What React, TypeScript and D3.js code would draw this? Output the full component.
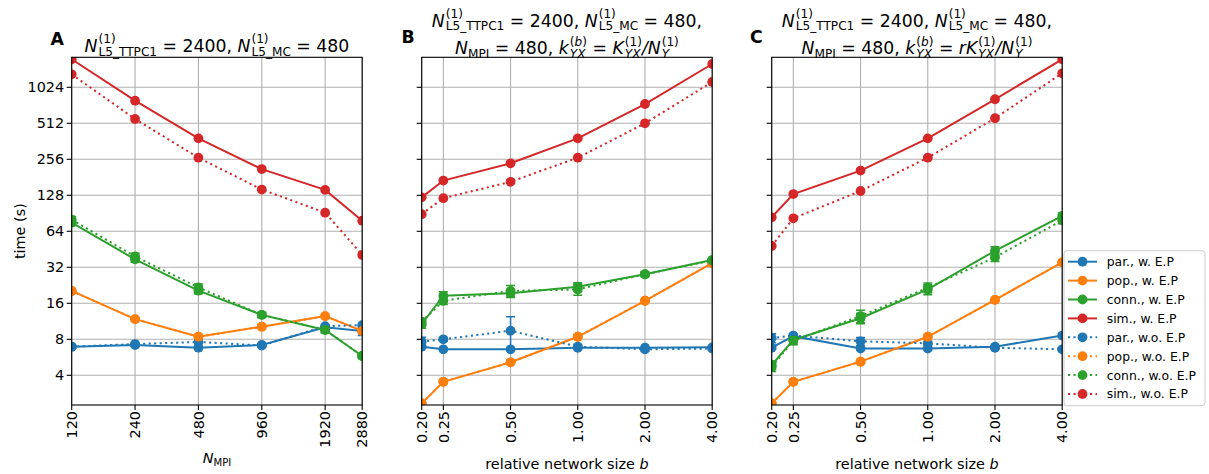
import React from "react";
import * as d3 from "d3";

// ---------- data ----------
const xMPI = [120, 240, 480, 960, 1920, 2880];
const xMPILabels = ["120", "240", "480", "960", "1920", "2880"];
const xSize = [0.2, 0.25, 0.5, 1, 2, 4];
const xSizeLabels = ["0.20", "0.25", "0.50", "1.00", "2.00", "4.00"];
const yTicks = [4, 8, 16, 32, 64, 128, 256, 512, 1024];

const seriesNames = ["par.", "pop.", "conn.", "sim."];
const variantNames = ["w. E.P", "w.o. E.P"];
const colors = ["#1f77b4", "#ff7f0e", "#2ca02c", "#d62728"];

// Panel A
const A_par_w = [6.94, 7.17, 6.81, 7.17, 10.1, 9.4];
const A_pop_w = [20.3, 11.8, 8.41, 10.2, 12.5, 9.4];
const A_conn_w = [75.5, 37.3, 20.4, 12.8, 9.57, 5.8];
const A_sim_w = [1756, 791, 383, 212, 142, 78.5];
const A_par_wo = [6.94, 7.3, 7.6, 7.1, 10.3, 10.5];
const A_pop_wo = [20.3, 11.8, 8.41, 10.2, 12.5, 9.4];
const A_conn_wo = [80, 39.5, 21.7, 12.8, 9.6, 5.8];
const A_sim_wo = [1315, 556, 264, 143, 91.6, 40.6];
const A_conn_w_err = [4, 2, 1.2, 0.6, 0.5, 0.2];
const A_conn_wo_err = [5, 2.5, 1.5, 0.6, 0.5, 0.2];
const A_par_w_err = [0.2, 0.2, 0.2, 0.2, 0.3, 0.8];

// Panel B
const B_par_w = [6.94, 6.6, 6.6, 6.8, 6.8, 6.85];
const B_pop_w = [2.33, 3.53, 5.14, 8.4, 16.8, 34.7];
const B_conn_w = [10.7, 18.5, 19.4, 22, 28, 36.8];
const B_sim_w = [123, 170, 237, 383, 742, 1603];
const B_par_wo = [7.64, 8.0, 9.44, 6.94, 6.6, 6.7];
const B_pop_wo = [2.33, 3.53, 5.14, 8.4, 16.8, 34.7];
const B_conn_wo = [11.2, 16.8, 20.3, 20.9, 28, 36.5];
const B_sim_wo = [89, 121, 166, 264, 512, 1134];
const B_par_wo_err = [0.7, 0.3, 2.9, 0.3, 0.2, 0.2];
const B_conn_w_err = [0.8, 1.5, 1.5, 1.8, 1.2, 0.8];
const B_conn_wo_err = [0.8, 1.2, 2.2, 2.2, 1.2, 0.8];

// Panel C
const C_par_w = [6.8, 8.5, 6.7, 6.7, 6.94, 8.6];
const C_pop_w = [2.33, 3.53, 5.2, 8.4, 17.1, 35.2];
const C_conn_w = [4.88, 7.9, 12, 20.9, 44, 86];
const C_sim_w = [83.8, 131, 206, 383, 813, 1756];
const C_par_wo = [8.2, 8.6, 7.7, 7.4, 6.8, 6.6];
const C_pop_wo = [2.33, 3.53, 5.2, 8.4, 17.1, 35.2];
const C_conn_wo = [4.7, 7.8, 12.5, 21.6, 38.8, 79];
const C_sim_wo = [48.2, 82.2, 139, 264, 564, 1341];
const C_par_wo_err = [0.7, 0.3, 0.6, 0.3, 0.2, 0.2];
const C_conn_w_err = [0.4, 0.6, 1.2, 2, 3.5, 5];
const C_conn_wo_err = [0.4, 0.6, 1.5, 2, 3, 5];

// ---------- layout ----------
const W = 1209;
const H = 474;
const TOP = 57.3;
const BOTTOM = 405;
const PW = 290.5;
const LEFTS = [71.7, 421.7, 771.7];
const FF = "'DejaVu Sans', sans-serif";
const TICK_FS = 14.4;
const TITLE_FS = 17.3;

const yScale = d3.scaleLog().base(2).domain([2.258, 1824]).range([BOTTOM, TOP]);

let _ctx: CanvasRenderingContext2D | null = null;
function measure(t: string, size: number, italic = false) {
  if (!_ctx) _ctx = document.createElement("canvas").getContext("2d");
  if (!_ctx) return t.length * size * 0.6;
  _ctx.font = `${italic ? "italic " : ""}${size}px 'DejaVu Sans'`;
  return _ctx.measureText(t).width;
}

type Part = { t: string; i?: boolean };
type Item =
  | { k: "n"; p: Part[] }
  | { k: "ss"; sup: Part[]; sub: Part[] }
  | { k: "sub"; p: Part[] };

function MathText({ x, y, items, size, anchor = "middle" }: { x: number; y: number; items: Item[]; size: number; anchor?: string }) {
  const small = size * 0.7;
  const supOff = -size * 0.48;
  const subOff = size * 0.22;
  const spans: any[] = [];
  let level = 0;
  let pendingDx = 0;
  let key = 0;
  const push = (p: Part, lvl: number, fs: number, dx: number) => {
    spans.push(
      <tspan key={key++} dy={lvl - level} dx={dx || undefined} fontSize={fs} fontStyle={p.i ? "italic" : "normal"}>
        {p.t}
      </tspan>
    );
    level = lvl;
  };
  const width = (ps: Part[], fs: number) => ps.reduce((s, p) => s + measure(p.t, fs, p.i), 0);
  for (const it of items) {
    if (it.k === "n") {
      it.p.forEach((p, j) => push(p, 0, size, j === 0 ? pendingDx : 0));
      pendingDx = 0;
    } else if (it.k === "sub") {
      it.p.forEach((p, j) => push(p, subOff, small, j === 0 ? pendingDx : 0));
      pendingDx = 0;
    } else {
      const sw = width(it.sup, small);
      const bw = width(it.sub, small);
      it.sup.forEach((p, j) => push(p, supOff, small, j === 0 ? pendingDx + 1 : 0));
      it.sub.forEach((p, j) => push(p, subOff, small, j === 0 ? -sw : 0));
      pendingDx = Math.max(0, sw - bw);
    }
  }
  return (
    <text x={x} y={y} textAnchor={anchor} fontFamily={FF} fontSize={size} fill="#000" style={{ whiteSpace: "pre" }}>
      {spans}
    </text>
  );
}

const titleLine1: Item[] = [
  { k: "n", p: [{ t: "N", i: true }] },
  { k: "ss", sup: [{ t: "(1)" }], sub: [{ t: "L5_TTPC1" }] },
  { k: "n", p: [{ t: " = 2400, " }, { t: "N", i: true }] },
  { k: "ss", sup: [{ t: "(1)" }], sub: [{ t: "L5_MC" }] },
  { k: "n", p: [{ t: " = 480" }] },
];
const titleLine1Comma: Item[] = [...titleLine1, { k: "n", p: [{ t: "," }] }];
function titleLine2(r: boolean): Item[] {
  return [
    { k: "n", p: [{ t: "N", i: true }] },
    { k: "sub", p: [{ t: "MPI" }] },
    { k: "n", p: [{ t: " = 480, " }, { t: "k", i: true }] },
    { k: "ss", sup: [{ t: "(" }, { t: "b", i: true }, { t: ")" }], sub: [{ t: "YX", i: true }] },
    { k: "n", p: [{ t: " = " }, { t: r ? "rK" : "K", i: true }] },
    { k: "ss", sup: [{ t: "(1)" }], sub: [{ t: "YX", i: true }] },
    { k: "n", p: [{ t: "/N", i: true }] },
    { k: "ss", sup: [{ t: "(1)" }], sub: [{ t: "Y", i: true }] },
  ];
}

type Series = { vals: number[]; err?: number[]; color: string; dotted: boolean };

function makeSeries(w: number[][], wo: number[][], errW: (number[] | undefined)[], errWo: (number[] | undefined)[]): Series[] {
  const out: Series[] = [];
  w.forEach((v, i) => out.push({ vals: v, err: errW[i], color: colors[i], dotted: false }));
  wo.forEach((v, i) => out.push({ vals: v, err: errWo[i], color: colors[i], dotted: true }));
  return out;
}

const seriesA = makeSeries(
  [A_par_w, A_pop_w, A_conn_w, A_sim_w],
  [A_par_wo, A_pop_wo, A_conn_wo, A_sim_wo],
  [A_par_w_err, undefined, A_conn_w_err, undefined],
  [undefined, undefined, A_conn_wo_err, undefined]
);
const seriesB = makeSeries(
  [B_par_w, B_pop_w, B_conn_w, B_sim_w],
  [B_par_wo, B_pop_wo, B_conn_wo, B_sim_wo],
  [undefined, undefined, B_conn_w_err, undefined],
  [B_par_wo_err, undefined, B_conn_wo_err, undefined]
);
const seriesC = makeSeries(
  [C_par_w, C_pop_w, C_conn_w, C_sim_w],
  [C_par_wo, C_pop_wo, C_conn_wo, C_sim_wo],
  [undefined, undefined, C_conn_w_err, undefined],
  [C_par_wo_err, undefined, C_conn_wo_err, undefined]
);

const LW = 2.0;
const MR = 4.9;
const DASH = "2.1 3.4";

function Panel({ idx, xs, xLabels, series, showY }: { idx: number; xs: number[]; xLabels: string[]; series: Series[]; showY: boolean }) {
  const left = LEFTS[idx];
  const xScale = d3.scaleLog().base(2).domain([xs[0], xs[xs.length - 1]]).range([left, left + PW]);
  const clipId = `clip${idx}`;
  const line = (vals: number[]) =>
    d3
      .line<number>()
      .x((_, i) => xScale(xs[i]))
      .y((v) => yScale(v))(vals) || "";
  return (
    <g>
      <defs>
        <clipPath id={clipId}>
          <rect x={left} y={TOP} width={PW} height={BOTTOM - TOP} />
        </clipPath>
      </defs>
      {xs.map((x, i) => (
        <line key={"gx" + i} x1={xScale(x)} x2={xScale(x)} y1={TOP} y2={BOTTOM} stroke="#b0b0b0" strokeWidth={1.1} />
      ))}
      {yTicks.map((t, i) => (
        <line key={"gy" + i} x1={left} x2={left + PW} y1={yScale(t)} y2={yScale(t)} stroke="#b0b0b0" strokeWidth={1.1} />
      ))}
      <g clipPath={`url(#${clipId})`}>
        {series.map((s, si) => (
          <g key={si}>
            <path d={line(s.vals)} fill="none" stroke={s.color} strokeWidth={LW} strokeDasharray={s.dotted ? DASH : undefined} />
            {s.err &&
              s.vals.map((v, i) => {
                const e = s.err![i];
                if (!e) return null;
                const x = xScale(xs[i]);
                const y1 = yScale(Math.max(v - e, 0.01));
                const y2 = yScale(v + e);
                return (
                  <g key={"e" + i} stroke={s.color} strokeWidth={1.5}>
                    <line x1={x} x2={x} y1={y1} y2={y2} />
                    <line x1={x - 4.5} x2={x + 4.5} y1={y1} y2={y1} />
                    <line x1={x - 4.5} x2={x + 4.5} y1={y2} y2={y2} />
                  </g>
                );
              })}
            {s.vals.map((v, i) => (
              <circle key={"m" + i} cx={xScale(xs[i])} cy={yScale(v)} r={MR} fill={s.color} />
            ))}
          </g>
        ))}
      </g>
      <rect x={left} y={TOP} width={PW} height={BOTTOM - TOP} fill="none" stroke="#000" strokeWidth={1.1} />
      {xs.map((x, i) => (
        <g key={"xt" + i}>
          <line x1={xScale(x)} x2={xScale(x)} y1={BOTTOM} y2={BOTTOM + 5} stroke="#000" strokeWidth={1.1} />
          <text
            transform={`translate(${xScale(x)},${BOTTOM + 6}) rotate(-90)`}
            textAnchor="end"
            dy="0.36em"
            fontFamily={FF}
            fontSize={TICK_FS}
          >
            {xLabels[i]}
          </text>
        </g>
      ))}
      {yTicks.map((t, i) => (
        <g key={"yt" + i}>
          <line x1={left - 5} x2={left} y1={yScale(t)} y2={yScale(t)} stroke="#000" strokeWidth={1.1} />
          {showY && (
            <text x={left - 7.5} y={yScale(t)} dy="0.36em" textAnchor="end" fontFamily={FF} fontSize={TICK_FS}>
              {t}
            </text>
          )}
        </g>
      ))}
    </g>
  );
}

function Legend() {
  const x0 = 1064;
  const y0 = 250.7;
  const rows: { color: string; dotted: boolean; label: string }[] = [];
  variantNames.forEach((vn, vi) =>
    seriesNames.forEach((sn, si) => rows.push({ color: colors[si], dotted: vi === 1, label: `${sn}, ${vn}` }))
  );
  return (
    <g>
      <rect x={x0} y={y0} width={141} height={155} rx={3} fill="#fff" fillOpacity={0.8} stroke="#cccccc" strokeWidth={1} />
      {rows.map((r, i) => {
        const y = 261.7 + i * 18.9;
        return (
          <g key={i}>
            <line x1={1068} x2={1097} y1={y} y2={y} stroke={r.color} strokeWidth={LW} strokeDasharray={r.dotted ? DASH : undefined} />
            <circle cx={1082.5} cy={y} r={MR} fill={r.color} />
            <text x={1106.7} y={y} dy="0.36em" fontFamily={FF} fontSize={12.4}>
              {r.label}
            </text>
          </g>
        );
      })}
    </g>
  );
}

export default function App() {
  return (
    <svg width={W} height={H} style={{ position: "absolute", left: 0, top: 0, background: "#fff" }}>
      <rect x={0} y={0} width={W} height={H} fill="#fff" />
      <Panel idx={0} xs={xMPI} xLabels={xMPILabels} series={seriesA} showY={true} />
      <Panel idx={1} xs={xSize} xLabels={xSizeLabels} series={seriesB} showY={false} />
      <Panel idx={2} xs={xSize} xLabels={xSizeLabels} series={seriesC} showY={false} />

      <MathText x={LEFTS[0] + PW / 2} y={51.7} items={titleLine1} size={TITLE_FS} />
      <MathText x={LEFTS[1] + PW / 2} y={26.5} items={titleLine1Comma} size={TITLE_FS} />
      <MathText x={LEFTS[1] + PW / 2} y={54} items={titleLine2(false)} size={TITLE_FS} />
      <MathText x={LEFTS[2] + PW / 2} y={26.5} items={titleLine1Comma} size={TITLE_FS} />
      <MathText x={LEFTS[2] + PW / 2} y={54} items={titleLine2(true)} size={TITLE_FS} />

      <text x={50.5} y={45} fontFamily={FF} fontWeight="bold" fontSize={17.3}>A</text>
      <text x={401.5} y={43.3} fontFamily={FF} fontWeight="bold" fontSize={17.3}>B</text>
      <text x={750} y={43.3} fontFamily={FF} fontWeight="bold" fontSize={17.3}>C</text>

      <text transform={`translate(25,${(TOP + BOTTOM) / 2}) rotate(-90)`} textAnchor="middle" fontFamily={FF} fontSize={TICK_FS}>
        time (s)
      </text>
      <MathText x={LEFTS[0] + PW / 2} y={462.5} items={[{ k: "n", p: [{ t: "N", i: true }] }, { k: "sub", p: [{ t: "MPI" }] }]} size={TICK_FS} />
      {[1, 2].map((i) => (
        <text key={i} x={LEFTS[i] + PW / 2} y={469} textAnchor="middle" fontFamily={FF} fontSize={TICK_FS}>
          relative network size <tspan fontStyle="italic">b</tspan>
        </text>
      ))}
      <Legend />
    </svg>
  );
}
